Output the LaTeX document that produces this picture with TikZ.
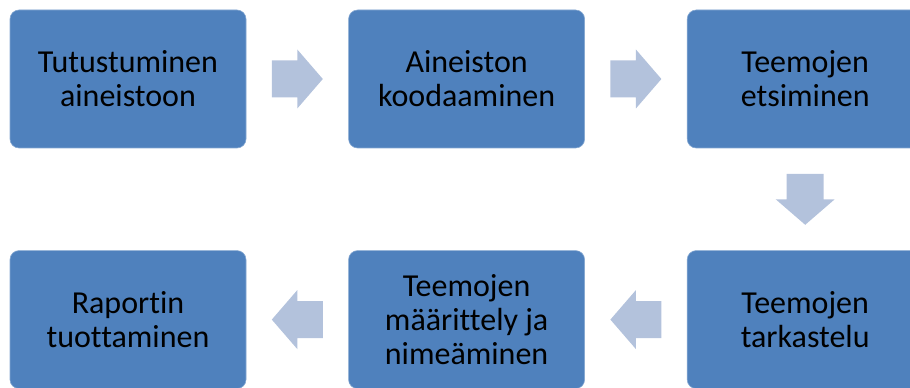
\documentclass[tikz,border=0pt]{standalone}
\usepackage{fontspec}
\setmainfont{Carlito}[Ligatures={NoCommon}]
\usetikzlibrary{positioning,calc}
\definecolor{boxblue}{HTML}{4F81BD}
\definecolor{arrowblue}{HTML}{B3C2DC}

% block arrow half way between two nodes
\newcommand{\blockarr}[3]{
  \fill[arrowblue,shift={($(#1)!0.5!(#2)$)},rotate=#3]
    (-25.5,-18.5) -- (0,-18.5) -- (0,-29.5) -- (25.5,0) -- (0,29.5) -- (0,18.5) -- (-25.5,18.5) -- cycle;
}

\begin{document}
\begin{tikzpicture}[x=1pt,y=1pt,node distance=102pt,
  stage/.style={rectangle,rounded corners=9pt,fill=boxblue,draw=boxblue!70!white,line width=0.6pt,
    minimum width=236pt,minimum height=138pt,align=center,
    font=\fontsize{32}{34}\selectfont}]
   \useasboundingbox (0,0) rectangle (910,388);
   \clip (0,0) rectangle (910,388);
   \node[stage] (tutust)                  at (128,309) {Tutustuminen\\aineistoon};
   \node[stage] (koodaus)  [right=of tutust]  {Aineiston\\koodaaminen};
   \node[stage] (etsinta)  [right=of koodaus] {Teemojen\\etsiminen};
   \node[stage] (tarkast)  [below=of etsinta] {Teemojen\\tarkastelu};
   \node[stage] (nimeam)   [left=of tarkast]  {Teemojen\\määrittely ja\\nimeäminen};
   \node[stage] (raportti) [left=of nimeam]   {Raportin\\tuottaminen};
   \blockarr{tutust}{koodaus}{0}
   \blockarr{koodaus}{etsinta}{0}
   \blockarr{etsinta}{tarkast}{-90}
   \blockarr{tarkast}{nimeam}{180}
   \blockarr{nimeam}{raportti}{180}
\end{tikzpicture}
\end{document}
